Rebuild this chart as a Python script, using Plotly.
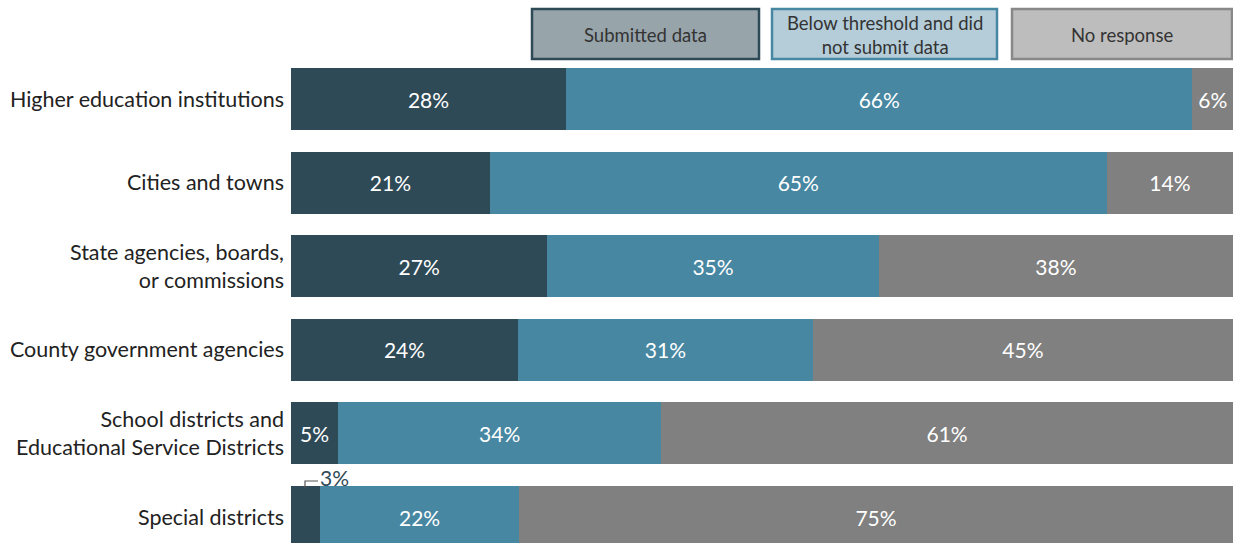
import plotly.graph_objects as go

categories = [
    "Higher education institutions",
    "Cities and towns",
    "State agencies, boards,<br>or commissions",
    "County government agencies",
    "School districts and<br>Educational Service Districts",
    "Special districts",
]
submitted = [29.2, 21.1, 27.2, 24.1, 5.0, 3.1]
below = [66.5, 65.5, 35.2, 31.3, 34.3, 21.1]
no_response = [4.3, 13.4, 37.6, 44.6, 60.7, 75.8]
submitted_labels = ["28%", "21%", "27%", "24%", "5%", ""]
below_labels = ["66%", "65%", "35%", "31%", "34%", "22%"]
no_response_labels = ["6%", "14%", "38%", "45%", "61%", "75%"]
legend_names = ["Submitted data", "Below threshold and did<br>not submit data", "No response"]

W, H = 1233, 543
L = 291
PW = W - L

DARK = "#2f4a57"
BLUE = "#4787a2"
GRAY = "#808080"
FONT = "Lato, 'Open Sans', sans-serif"

fig = go.Figure()
for vals, labs, col in [(submitted, submitted_labels, DARK),
                        (below, below_labels, BLUE),
                        (no_response, no_response_labels, GRAY)]:
    fig.add_trace(go.Bar(
        y=categories, x=vals, orientation="h", marker=dict(color=col, line=dict(width=0)),
        text=labs, textposition="inside", insidetextanchor="middle",
        textfont=dict(color="white", size=21, family=FONT), constraintext="none",
        hoverinfo="skip", showlegend=False,
    ))

def px(x):
    return (x - L) / PW

def py(y):
    return 1 - y / H

# legend boxes
boxes = [(532, 759, "#97a4aa", DARK), (772, 997, "#b4cdd9", BLUE), (1012, 1232, "#bdbdbd", "#888888")]
for (x0, x1, fill, border), name in zip(boxes, legend_names):
    fig.add_shape(type="rect", xref="paper", yref="paper", x0=px(x0), x1=px(x1), y0=py(59), y1=py(9),
                  fillcolor=fill, line=dict(color=border, width=2.5))
    fig.add_annotation(xref="paper", yref="paper", x=px((x0 + x1) / 2), y=py(35), text=name,
                       showarrow=False, font=dict(size=18.5, color="#333333", family=FONT),
                       xanchor="center", yanchor="middle")

# 3% callout for Special districts
xp = lambda p: (p - L) / PW * 100
yi = lambda p: (p - 99) / 83.6
fig.add_shape(type="path", xref="x", yref="y",
              path=f"M {xp(305)},{yi(488)} L {xp(305)},{yi(481)} L {xp(318)},{yi(481)}",
              line=dict(color="#555555", width=1.2))
fig.add_annotation(xref="x", yref="y", x=xp(318), y=yi(477), text="3%", showarrow=False,
                   xanchor="left", yanchor="middle", font=dict(size=21, color=DARK, family=FONT))

fig.update_layout(
    width=W, height=H, barmode="stack", bargap=0.26,
    margin=dict(l=L, r=0, t=0, b=0),
    plot_bgcolor="white", paper_bgcolor="white",
    xaxis=dict(range=[0, 100], visible=False, fixedrange=True),
    yaxis=dict(type="category", range=[yi(543), yi(0)], showgrid=False, zeroline=False,
               ticks="", ticklabelstandoff=6, tickfont=dict(size=21.5, color="#222222", family=FONT),
               showline=False, fixedrange=True),
    font=dict(family=FONT),
)

fig.write_html("out.html", config={"displayModeBar": False},
               post_script="document.body.style.margin='0';document.body.style.overflow='hidden';")
